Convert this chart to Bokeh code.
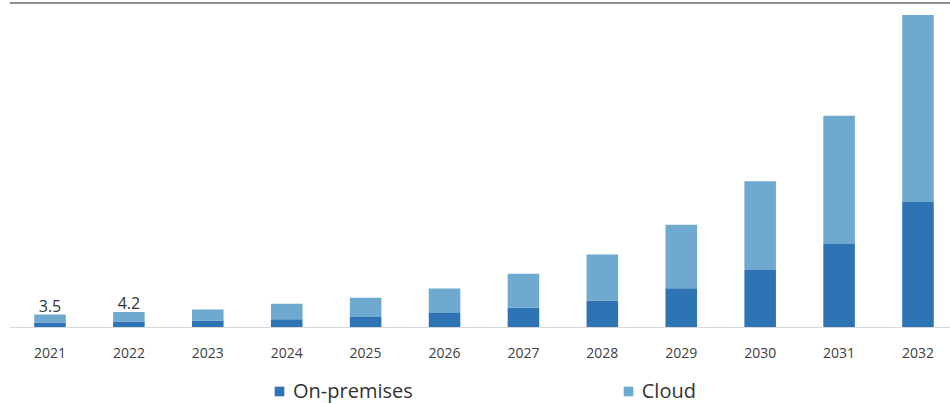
from bokeh.plotting import figure
from bokeh.models import ColumnDataSource, Range1d, FixedTicker, Legend, LegendItem, Span
from bokeh.embed import file_html
from bokeh.resources import INLINE
from bokeh.core.properties import value

years = [2021, 2022, 2023, 2024, 2025, 2026, 2027, 2028, 2029, 2030, 2031, 2032]
on_premises = [1.35, 1.6, 1.9, 2.2, 2.8, 3.9, 5.3, 7.3, 10.6, 15.5, 22.5, 33.8]
cloud = [2.15, 2.6, 2.95, 4.2, 5.2, 6.6, 9.2, 12.4, 17.1, 23.9, 34.6, 50.4]
label_years = [2021, 2022]
label_values = [3.5, 4.2]
series_names = ["On-premises", "Cloud"]
colors = ["#2e74b5", "#6fa9d0"]

src = ColumnDataSource(dict(year=years, on=on_premises, cloud=cloud))

Y_END = 87.6
Y_START = -20.49
p = figure(width=950, height=403, output_backend="svg", toolbar_location=None,
           x_range=Range1d(2020.487, 2032.412), y_range=Range1d(Y_START, Y_END),
           y_axis_location=None, min_border_left=9, min_border_right=0,
           min_border_top=2, min_border_bottom=0)
p.outline_line_color = None
p.grid.visible = False
p.background_fill_color = "white"

rs = p.vbar_stack(["on", "cloud"], x="year", width=0.4, source=src,
                  color=colors, line_color=None)

lbl = ColumnDataSource(dict(x=label_years, y=label_values, t=[str(v) for v in label_values]))
p.text(x="x", y="y", text="t", source=lbl, text_align="center", text_baseline="bottom",
       y_offset=-3, text_font=value("Open Sans"), text_font_size="16px", text_color="#333333")

ax = p.xaxis[0]
ax.fixed_location = 0
ax.ticker = FixedTicker(ticks=years)
ax.axis_line_color = "#d9d9d9"
ax.axis_line_width = 1
ax.major_tick_line_color = None
ax.minor_tick_line_color = None
ax.major_tick_out = 0
ax.major_tick_in = 0
ax.major_label_standoff = 21
ax.major_label_text_font = "Open Sans"
ax.major_label_text_font_size = "14px"
ax.major_label_text_color = "#404040"

p.add_layout(Span(location=Y_END, dimension="width", line_color="#222222", line_width=2))

lg = Legend(items=[LegendItem(label=n, renderers=[r]) for n, r in zip(series_names, rs)],
            location=(264, -1), orientation="horizontal", padding=0, margin=0,
            spacing=209,
            glyph_width=12, glyph_height=12, label_standoff=8,
            label_text_font="Open Sans", label_text_font_size="20px",
            label_text_color="#333333", border_line_color=None,
            background_fill_alpha=0)
p.add_layout(lg, "center")

open("out.html", "w").write(file_html(p, INLINE))
